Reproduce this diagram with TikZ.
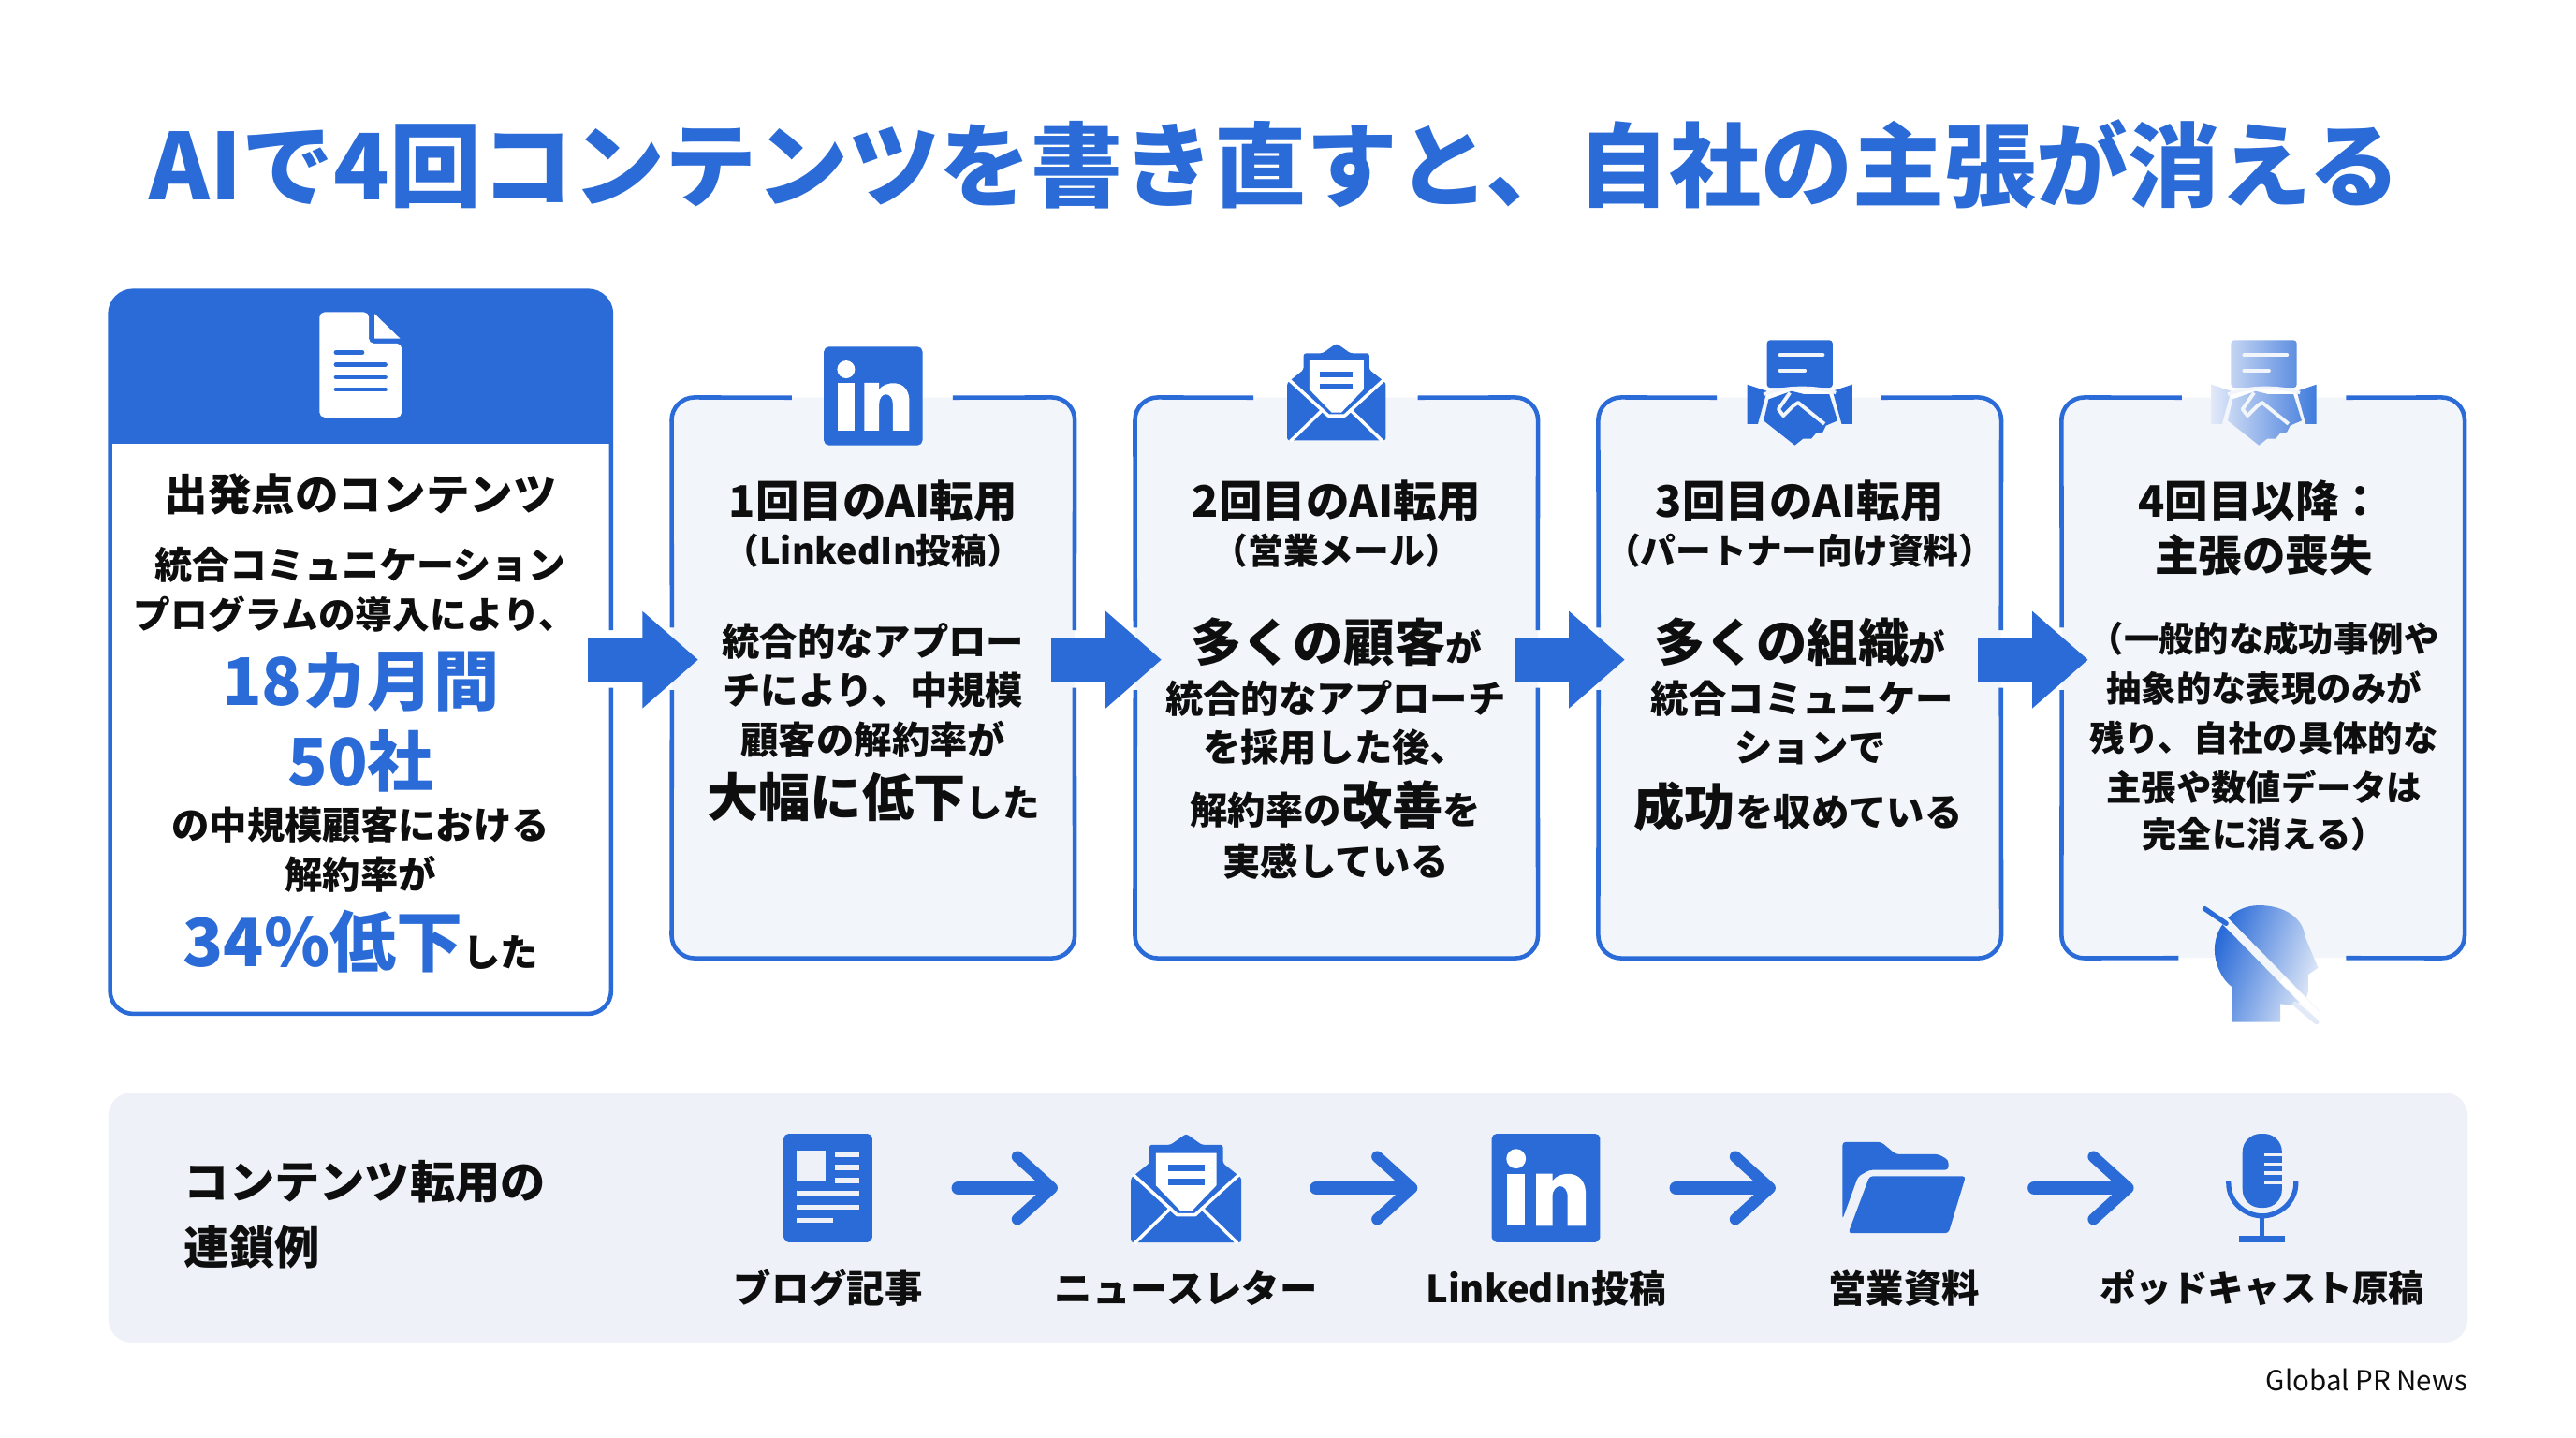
\documentclass[tikz,border=0pt]{standalone}
\usepackage{fontspec}
\setmainfont{Noto Sans CJK JP}
\usetikzlibrary{arrows.meta}
\definecolor{bl}{HTML}{2A6BD8}
\definecolor{cardbg}{HTML}{F2F5FA}
\definecolor{bandbg}{HTML}{EEF2F8}
\definecolor{ink}{HTML}{0E0E0E}
\definecolor{pale}{HTML}{E2EAF8}
\newcommand\fs[1]{\fontsize{#1}{#1}\selectfont}
\newcommand\tl[5]{\node[tx,font=\bfseries\fs{#4}] (#1) at (#2,#3) {#5};}
\newcommand\bl[2]{\textcolor{bl}{\fs{#1}#2}}
\newcommand\shakepath{
 [rounded corners=2pt] (-20,0) -- (20,0) -- (20,29) -- (-20,29) -- cycle
 [sharp corners] (-32,27) -- (-20,31) -- (-25.5,51) -- (-32,51) -- cycle
 (32,27) -- (20,31) -- (25.5,51) -- (32,51) -- cycle
 (-19,36) -- (-5,31) -- (3,33) -- (18,33) -- (23,49) -- (16,52) -- (14,56) -- (10,56.5) -- (7,60) -- (2,60) -- (-3,64) -- (-22,49) -- cycle}
\newcommand\shakedetail[1]{
 \draw[#1,line width=2.4pt,line cap=round] (-12,9) -- (14,9);
 \draw[#1,line width=2.4pt,line cap=round] (-12,18.5) -- (3,18.5);
 \draw[#1,line width=2pt] (-22,33) .. controls (-10,28) and (10,28) .. (22,32);
 \draw[#1,line width=2.2pt,line join=round] (-6,32) -- (-13,42) -- (-10,46) -- (-4,40) -- (-1,38) -- (15,51);}
\tikzset{
 x=1pt,y=-1pt,
 tx/.style={text=ink,inner sep=0pt,anchor=center,align=center},
 cardbox/.style={fill=cardbg,rounded corners=14pt,inner sep=0pt,minimum width=245pt,minimum height=341pt},
 cardline/.style={draw=bl,line width=2.6pt,rounded corners=14pt},
 flowarrow/.style={draw=bl,line width=27pt,-{Triangle[length=34pt,width=57pt,fill=bl]}},
 chainarrow/.style={draw=bl,line width=8pt,line cap=round,shorten <=3pt,shorten >=2pt,-{Straight Barb[length=21pt,width=38pt,round,line width=7pt,bl]}},
 iconslot/.style={inner sep=0pt,minimum width=152pt,minimum height=66pt},
 pics/docicon/.style={code={
  \fill[white,rounded corners=3pt] (-25,0) -- (5,0) -- (5,19) -- (25,19) -- (25,64) -- (-25,64) -- cycle;
  \fill[white] (8.5,1) -- (24,16) -- (8.5,16) -- cycle;
  \foreach \yy/\xx in {24.5/1,32/15,39.5/15,47/15}{\draw[bl,line width=2.6pt,line cap=round] (-15,\yy) -- (\xx,\yy);}
 }},
 pics/inlogo/.style={code={
  \fill[bl,rounded corners=3pt] (-30,0) rectangle (30,60);
  \fill[white] (-16.5,13.8) circle[radius=5.4];
  \fill[white] (-21.5,22) rectangle (-11.5,51);
  \fill[white] (-5.4,51) -- (-5.4,22) -- (3.6,22) -- (3.6,26) .. controls (7,21) and (21,19) .. (22,32) -- (22,51) -- (12,51) -- (12,35) .. controls (12,27) and (3.6,27) .. (3.6,35) -- (3.6,51) -- cycle;
 }},
 pics/mailicon/.style={code={
  \fill[bl,rounded corners=1.5pt] (0,0) -- (8.5,6) -- (20,6) -- (20,16) -- (30,24) -- (30,59) -- (-30,59) -- (-30,24) -- (-20,16) -- (-20,6) -- (-8.5,6) -- cycle;
  \draw[white,line width=2pt,line join=round] (-29,22) -- (-5,44) -- (5,44) -- (29,22);
  \fill[white] (-16.5,10.5) -- (16.5,10.5) -- (16.5,28) -- (3,42) -- (-3,42) -- (-16.5,28) -- cycle;
  \fill[bl] (-10,17) rectangle (10,20.5);
  \fill[bl] (-10,24.5) rectangle (10,28);
  \draw[white,line width=2pt] (-8,40) -- (-28,59.5);
  \draw[white,line width=2pt] (8,40) -- (28,59.5);
 }},
 pics/shakeicon/.style={code={
  \fill[bl] \shakepath;
  \shakedetail{cardbg}
 }},
 pics/fadedshake/.style={code={
  \shade[left color=pale,right color=bl!90] \shakepath;
  \shakedetail{cardbg}
 }},
 pics/headicon/.style={code={
  \shade[left color=bl,right color=pale,shading angle=70]
   (-2,0) .. controls (14,0) and (25,8) .. (26,19) -- (34,38) -- (28,42) -- (28,52) .. controls (27,60) and (20,61) .. (11,60) -- (11,71) -- (-18,71) -- (-18,50) .. controls (-25,45) and (-29,35) .. (-29,27) .. controls (-29,12) and (-17,0) .. (-2,0) -- cycle;
  \draw[cardbg,line width=5pt] (-26,6) -- (34,67);
  \draw[white,line width=4pt] (12,45) -- (34,67);
  \draw[bl,line width=3pt,line cap=round] (-35,2) -- (-22,11);
  \draw[pale,line width=3pt,line cap=round] (20,60) -- (33,71);
 }},
 pics/blogicon/.style={code={
  \fill[bl,rounded corners=3pt] (-27,0) rectangle (27,66);
  \fill[bandbg] (-19,10.5) rectangle (-1.5,29);
  \foreach \yy in {11,19,27}{\fill[bandbg] (4,\yy) rectangle (19,\yy+3);}
  \foreach \yy/\xx in {35/19,43/19,51/3}{\fill[bandbg] (-19,\yy) rectangle (\xx,\yy+3);}
 }},
 pics/foldericon/.style={code={
  \fill[bl,rounded corners=2pt] (-37.5,0) -- (-14,0) -- (-5,7.5) -- (21,7.5) -- (27,11) -- (27,17) -- (-21,17) -- (-28,21) -- (-37.5,47) -- cycle;
  \fill[bl,rounded corners=2pt] (-21,20.8) -- (37.5,20.8) -- (27,55.5) -- (-34,55.5) -- cycle;
 }},
 pics/micicon/.style={code={
  \fill[bl,rounded corners=11pt] (-12,0) rectangle (12,45);
  \foreach \yy in {12,17.5,23,29}{\fill[bandbg] (1.5,\yy) rectangle (13,\yy+1.8);}
  \draw[bl,line width=3pt] (-20.5,29) -- (-20.5,30) .. controls (-20.5,42) and (-10,50) .. (0,50) .. controls (10,50) and (20.5,42) .. (20.5,30) -- (20.5,29);
  \fill[bl] (-1.5,50) rectangle (1.5,63);
  \fill[bl] (-14,62) rectangle (14,66);
 }},
}
\begin{document}
\begin{tikzpicture}[font=\bfseries]
\useasboundingbox (0,0) rectangle (1568,875);
\fill[white] (0,0) rectangle (1568,875);

\node[tx,font=\bfseries\fs{55.8},text=bl] (title) at (776,100) {AIで4回コンテンツを書き直すと、自社の主張が消える};

% start box
\node[fill=white,rounded corners=14pt,inner sep=0pt,minimum width=305pt,minimum height=440pt] (start) at (219.5,397) {};
\fill[bl] (67,270) [rounded corners=14pt] -- (start.north west) -- (start.north east) [sharp corners] -- (372,270) -- cycle;
\draw[cardline] (372,383.5) -- (372,177) -- (67,177) -- (67,617) -- (372,617) -- (372,418.5);
\pic at (219.5,190) {docicon};

% cards
\node[cardbox] (c1) at (531.5,412.5) {};
\node[cardbox] (c2) at (813.5,412.5) {};
\node[cardbox] (c3) at (1095.5,412.5) {};
\node[cardbox] (c4) at (1377.5,412.5) {};

\foreach \cn/\xl/\xr/\gl/\gr in {c1/409/654/482/580,c2/691/936/763/863,c3/973/1218/1045/1145}{
 \draw[cardline] (\gr,242) -- (\cn.north east) -- (\xr,383.5);
 \draw[cardline] (\xr,418.5) -- (\cn.south east) -- (\cn.south west) -- (\xl,420);
 \draw[cardline] (\xl,382) -- (\cn.north west) -- (\gl,242);
}
\draw[cardline] (1428,242) -- (c4.north east) -- (c4.south east) -- (1428,583);
\draw[cardline] (1326,583) -- (c4.south west) -- (1255,420);
\draw[cardline] (1255,382) -- (c4.north west) -- (1328,242);

\pic at (531.5,211) {inlogo};
\pic at (813.5,209) {mailicon};
\pic at (1095.5,207) {shakeicon};
\pic at (1378,207) {fadedshake};
\pic at (1377,551) {headicon};

% flow arrows
\coordinate (a0s) at (358,401.5); \coordinate (a0e) at (425,401.5);
\coordinate (a1s) at (640,401.5); \coordinate (a1e) at (707,401.5);
\coordinate (a2s) at (922,401.5); \coordinate (a2e) at (989,401.5);
\coordinate (a3s) at (1204,401.5); \coordinate (a3e) at (1271,401.5);
\draw[flowarrow] (a0s) -- (a0e);
\draw[flowarrow] (a1s) -- (a1e);
\draw[flowarrow] (a2s) -- (a2e);
\draw[flowarrow] (a3s) -- (a3e);

% start text
\tl{s1}{219.5}{301}{26.5}{出発点のコンテンツ}
\tl{s2}{219.5}{344}{22.8}{統合コミュニケーション}
\tl{s3}{216}{374}{22.6}{プログラムの導入により、}
\tl{s4}{219.5}{415}{40}{\textcolor{bl}{18カ月間}}
\tl{s5}{219.5}{463}{40}{\textcolor{bl}{50社}}
\tl{s6}{219.5}{502}{23}{の中規模顧客における}
\tl{s7}{219.5}{532}{23}{解約率が}
\tl{s8}{219.5}{573}{23}{\bl{40.5}{34\%低下}した}

% card 1
\tl{a1}{531.5}{305}{26.5}{1回目のAI転用}
\tl{a2}{531.5}{335}{21.5}{（LinkedIn投稿）}
\tl{a3}{531.5}{390}{23}{統合的なアプロー}
\tl{a4}{531.5}{420}{23}{チにより、中規模}
\tl{a5}{531.5}{450}{23}{顧客の解約率が}
\tl{a6}{531.5}{485}{22.5}{\fs{31.5}大幅に低下\fs{22.5}した}

% card 2
\tl{b1}{813.5}{305}{26.5}{2回目のAI転用}
\tl{b2}{813.5}{335}{21.5}{（営業メール）}
\tl{b3}{813.5}{391}{22}{\fs{31}多くの顧客\fs{22}が}
\tl{b4}{813}{425}{23}{統合的なアプローチ}
\tl{b5}{813}{455}{23}{を採用した後、}
\tl{b6}{813}{490}{23}{解約率の\fs{31}改善\fs{23}を}
\tl{b7}{813}{524}{23}{実感している}

% card 3
\tl{d1}{1095.5}{305}{26.5}{3回目のAI転用}
\tl{d2}{1095.5}{335}{21.5}{（パートナー向け資料）}
\tl{d3}{1095.5}{391}{22}{\fs{31}多くの組織\fs{22}が}
\tl{d4}{1097}{425}{23}{統合コミュニケー}
\tl{d5}{1102}{455}{23}{ションで}
\tl{d6}{1094.5}{491}{23}{\fs{31}成功\fs{23}を収めている}

% card 4
\tl{e1}{1376}{305}{26.5}{4回目以降：}
\tl{e2}{1378}{338}{26.5}{主張の喪失}
\tl{e3}{1378}{389}{21.3}{（一般的な成功事例や}
\tl{e4}{1378}{419}{21.3}{抽象的な表現のみが}
\tl{e5}{1378}{449}{21.3}{残り、自社の具体的な}
\tl{e6}{1378}{479}{21.3}{主張や数値データは}
\tl{e7}{1378}{508}{21.3}{完全に消える）}

% band
\node[fill=bandbg,rounded corners=14pt,inner sep=0pt,minimum width=1436pt,minimum height=152pt] (band) at (784,741) {};
\node[tx,anchor=west,font=\bfseries\fs{27.5}] (bt1) at (112,719) {コンテンツ転用の};
\node[tx,anchor=west,font=\bfseries\fs{27.5}] (bt2) at (112,759) {連鎖例};

\node[iconslot] (ic1) at (504,723) {};
\node[iconslot] (ic2) at (722,723) {};
\node[iconslot] (ic3) at (941,723) {};
\node[iconslot] (ic4) at (1159,723) {};
\node[iconslot] (ic5) at (1377,723) {};
\pic at (504,690) {blogicon};
\pic[scale=1.12] at (722,690) {mailicon};
\pic[scale=1.1] at (941,690) {inlogo};
\pic at (1159,695) {foldericon};
\pic at (1377,690) {micicon};
\draw[chainarrow] (ic1.east) -- (ic2.west);
\draw[chainarrow] (ic2.east) -- (ic3.west);
\draw[chainarrow] (ic3.east) -- (ic4.west);
\draw[chainarrow] (ic4.east) -- (ic5.west);

\tl{l1}{504}{784}{23}{ブログ記事}
\tl{l2}{722}{784}{23}{ニュースレター}
\tl{l3}{941}{784}{22.7}{LinkedIn投稿}
\tl{l4}{1159}{784}{23}{営業資料}
\tl{l5}{1377}{784}{22}{ポッドキャスト原稿}

\node[inner sep=0pt,anchor=east,text=ink,font=\mdseries\fs{16.8}] (src) at (1502,840) {Global PR News};
\end{tikzpicture}
\end{document}
